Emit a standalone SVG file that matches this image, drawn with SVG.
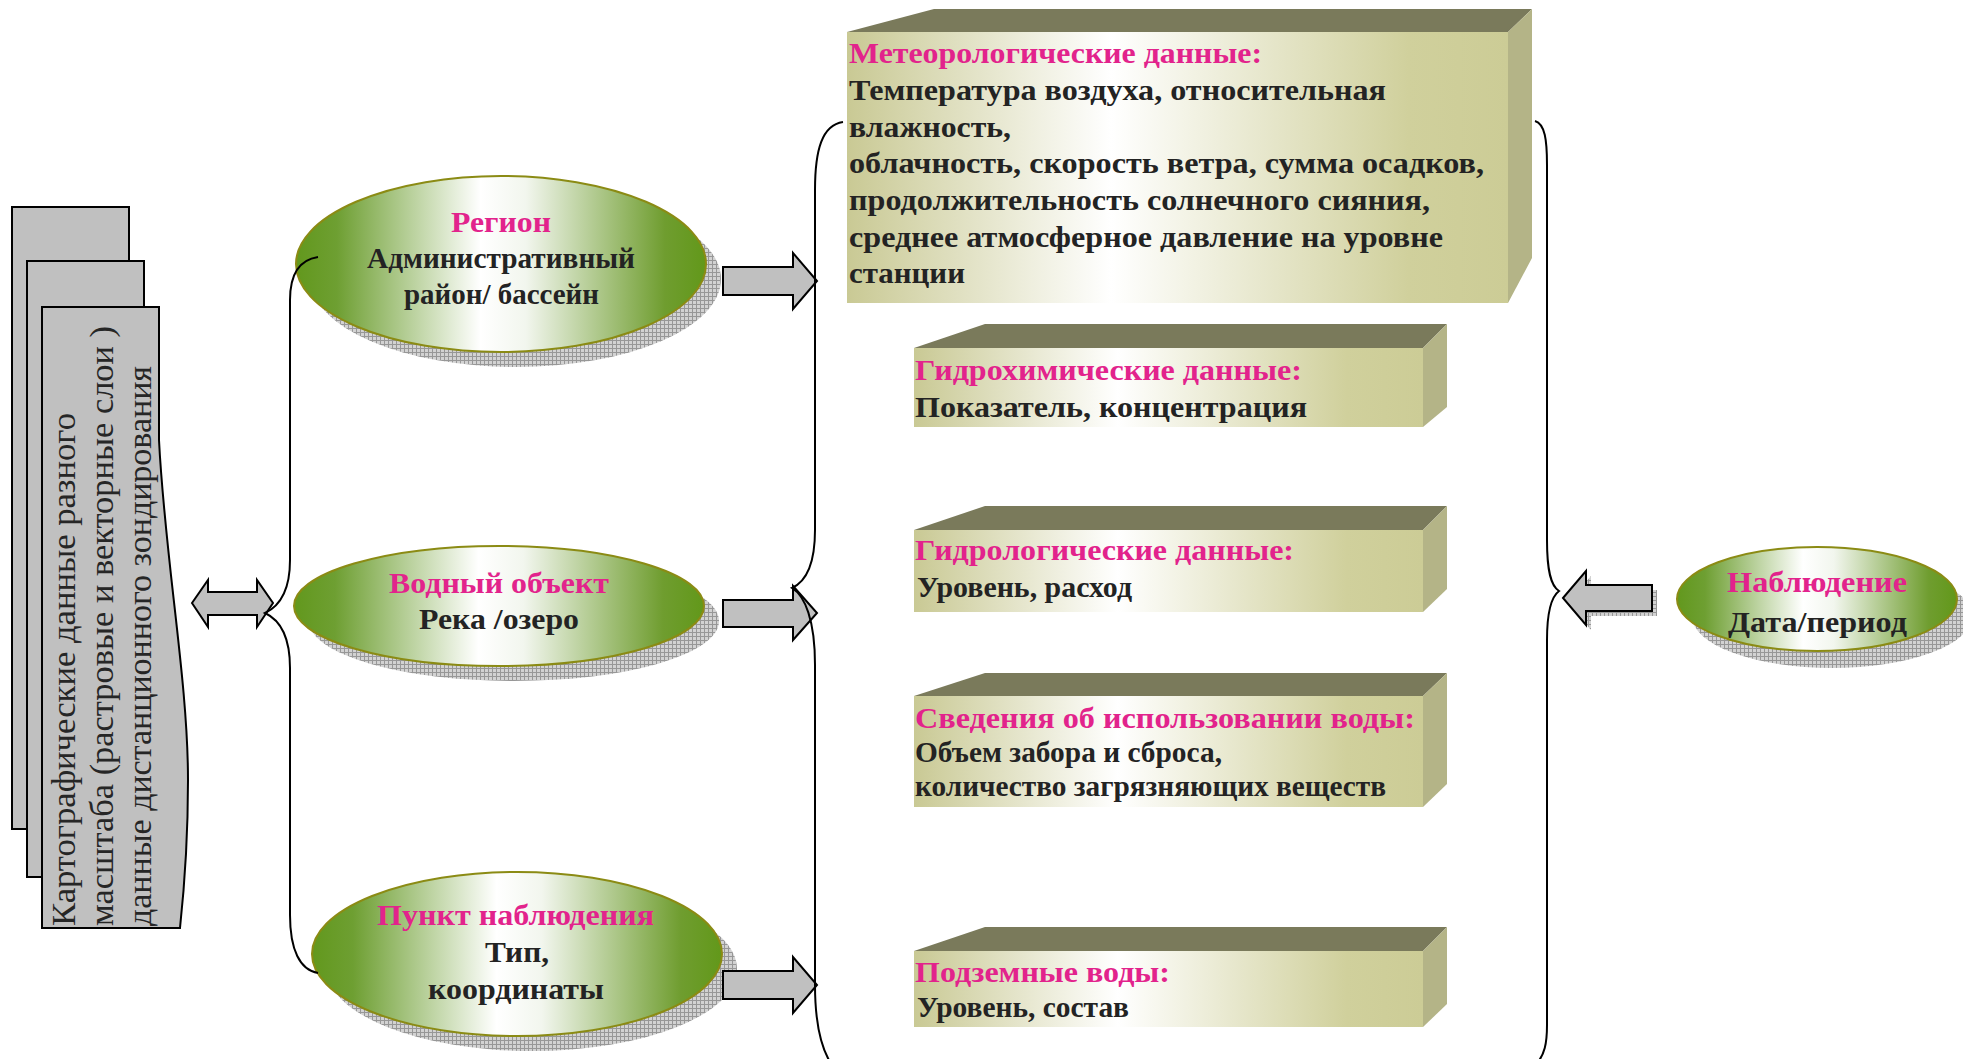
<svg xmlns="http://www.w3.org/2000/svg" width="1963" height="1059" viewBox="0 0 1963 1059">
  <defs>
    <linearGradient id="ovalFill" x1="0" y1="0" x2="1" y2="0">
      <stop offset="0" stop-color="#62981d"/>
      <stop offset="0.1" stop-color="#6e9f32"/>
      <stop offset="0.45" stop-color="#ffffff"/>
      <stop offset="0.56" stop-color="#f2f6ee"/>
      <stop offset="0.9" stop-color="#6f9d2f"/>
      <stop offset="1" stop-color="#62981a"/>
    </linearGradient>
    <linearGradient id="faceFill" x1="0" y1="0" x2="1" y2="0">
      <stop offset="0" stop-color="#c9c994"/>
      <stop offset="0.4" stop-color="#ffffff"/>
      <stop offset="0.85" stop-color="#d0d09c"/>
      <stop offset="1" stop-color="#cccc96"/>
    </linearGradient>
    <pattern id="hatch" width="4" height="4" patternUnits="userSpaceOnUse">
      <rect width="4" height="4" fill="#d2d2d2"/>
      <path d="M0 0.5H4M0.5 0V4" stroke="#979797" stroke-width="1"/>
    </pattern>
  </defs>
  <style>
    .sheet { fill: #c0c0c0; stroke: #000; stroke-width: 2; }
    .sheet-text { font-family: "Liberation Serif", "Times New Roman", serif; font-size: 34px; fill: #262626; }
    .oval { fill: url(#ovalFill); stroke: #8b8b14; stroke-width: 2; }
    .shadow { fill: url(#hatch); }
    .face { fill: url(#faceFill); }
    .top { fill: #7a7a5b; }
    .side { fill: #b4b487; }
    .t { font-family: "Liberation Serif", "Times New Roman", serif; font-weight: bold; font-size: 29px; }
    .head { fill: #e2238c; }
    .body { fill: #232323; }
    .block { fill: #c0c0c0; stroke: #000; stroke-width: 2; stroke-linejoin: miter; }
    .brace { fill: none; stroke: #000; stroke-width: 2; }
  </style>

  <rect width="1963" height="1059" fill="#ffffff"/>

  <!-- stacked map sheets -->
  <g id="maps">
    <rect class="sheet" x="12" y="207" width="117" height="622"/>
    <rect class="sheet" x="27" y="261" width="117" height="616"/>
    <path class="sheet" d="M42,307 L159,307 L159,440 C165,560 188,680 188,780 C188,850 183,900 180,928 L42,928 Z"/>
    <text class="sheet-text" transform="translate(75,926) rotate(-90)" textLength="513" lengthAdjust="spacingAndGlyphs">Картографические данные разного</text>
    <text class="sheet-text" transform="translate(113,926) rotate(-90)" textLength="600" lengthAdjust="spacingAndGlyphs">масштаба (растровые и  векторные слои )</text>
    <text class="sheet-text" transform="translate(151,926) rotate(-90)" textLength="560" lengthAdjust="spacingAndGlyphs">данные дистанционного зондирования</text>
  </g>

  <!-- ovals -->
  <g id="region">
    <ellipse class="shadow" cx="516" cy="279" rx="205" ry="88"/>
    <ellipse class="oval" cx="501" cy="264" rx="205" ry="88"/>
    <text class="t head" x="451" y="232" textLength="100" lengthAdjust="spacingAndGlyphs">Регион</text>
    <text class="t body" x="367" y="268" textLength="268" lengthAdjust="spacingAndGlyphs">Административный</text>
    <text class="t body" x="404" y="304" textLength="195" lengthAdjust="spacingAndGlyphs">район/ бассейн</text>
  </g>

  <g id="water-body">
    <ellipse class="shadow" cx="514" cy="621" rx="205" ry="60"/>
    <ellipse class="oval" cx="499" cy="606" rx="205" ry="60"/>
    <text class="t head" x="389" y="593" textLength="220" lengthAdjust="spacingAndGlyphs">Водный объект</text>
    <text class="t body" x="419" y="629" textLength="160" lengthAdjust="spacingAndGlyphs">Река /озеро</text>
  </g>

  <g id="station">
    <ellipse class="shadow" cx="532" cy="969" rx="205" ry="82"/>
    <ellipse class="oval" cx="517" cy="954" rx="205" ry="82"/>
    <text class="t head" x="377" y="925" textLength="277" lengthAdjust="spacingAndGlyphs">Пункт наблюдения</text>
    <text class="t body" x="485" y="962" textLength="64" lengthAdjust="spacingAndGlyphs">Тип,</text>
    <text class="t body" x="428" y="999" textLength="176" lengthAdjust="spacingAndGlyphs">координаты</text>
  </g>

  <g id="observation">
    <ellipse class="shadow" cx="1832" cy="616" rx="140" ry="52"/>
    <ellipse class="oval" cx="1817" cy="599" rx="140" ry="52"/>
    <text class="t head" x="1727" y="592" textLength="180" lengthAdjust="spacingAndGlyphs">Наблюдение</text>
    <text class="t body" x="1728" y="632" textLength="179" lengthAdjust="spacingAndGlyphs">Дата/период</text>
  </g>

  <!-- data boxes -->
  <g id="meteo">
    <polygon class="top" points="847,32 934,9 1532,9 1508,32"/>
    <polygon class="side" points="1508,32 1532,9 1532,258 1508,303"/>
    <rect class="face" x="847" y="32" width="661" height="271"/>
    <text class="t head" x="849" y="63" textLength="413" lengthAdjust="spacingAndGlyphs">Метеорологические данные:</text>
    <text class="t body" x="849" y="100" textLength="537" lengthAdjust="spacingAndGlyphs">Температура воздуха, относительная</text>
    <text class="t body" x="849" y="137" textLength="162" lengthAdjust="spacingAndGlyphs">влажность,</text>
    <text class="t body" x="849" y="173" textLength="635" lengthAdjust="spacingAndGlyphs">облачность, скорость ветра, сумма осадков,</text>
    <text class="t body" x="849" y="210" textLength="581" lengthAdjust="spacingAndGlyphs">продолжительность солнечного сияния,</text>
    <text class="t body" x="849" y="247" textLength="594" lengthAdjust="spacingAndGlyphs">среднее атмосферное давление на уровне</text>
    <text class="t body" x="849" y="283" textLength="116" lengthAdjust="spacingAndGlyphs">станции</text>
  </g>

  <g id="hydrochem">
    <polygon class="top" points="914,348 985,324 1447,324 1423,348"/>
    <polygon class="side" points="1423,348 1447,324 1447,407 1423,427"/>
    <rect class="face" x="914" y="348" width="509" height="79"/>
    <text class="t head" x="915" y="380" textLength="387" lengthAdjust="spacingAndGlyphs">Гидрохимические данные:</text>
    <text class="t body" x="915" y="417" textLength="392" lengthAdjust="spacingAndGlyphs">Показатель, концентрация</text>
  </g>

  <g id="hydrology">
    <polygon class="top" points="914,530 985,506 1447,506 1423,530"/>
    <polygon class="side" points="1423,530 1447,506 1447,589 1423,612"/>
    <rect class="face" x="914" y="530" width="509" height="82"/>
    <text class="t head" x="915" y="560" textLength="379" lengthAdjust="spacingAndGlyphs">Гидрологические данные:</text>
    <text class="t body" x="917" y="597" textLength="215" lengthAdjust="spacingAndGlyphs">Уровень, расход</text>
  </g>

  <g id="water-use">
    <polygon class="top" points="914,696 985,673 1447,673 1423,696"/>
    <polygon class="side" points="1423,696 1447,673 1447,784 1423,807"/>
    <rect class="face" x="914" y="696" width="509" height="111"/>
    <text class="t head" x="915" y="728" textLength="500" lengthAdjust="spacingAndGlyphs">Сведения об использовании воды:</text>
    <text class="t body" x="915" y="762" textLength="307" lengthAdjust="spacingAndGlyphs">Объем забора и сброса,</text>
    <text class="t body" x="915" y="796" textLength="471" lengthAdjust="spacingAndGlyphs">количество загрязняющих веществ</text>
  </g>

  <g id="groundwater">
    <polygon class="top" points="914,951 985,927 1447,927 1423,951"/>
    <polygon class="side" points="1423,951 1447,927 1447,1004 1423,1027"/>
    <rect class="face" x="914" y="951" width="509" height="76"/>
    <text class="t head" x="915" y="982" textLength="255" lengthAdjust="spacingAndGlyphs">Подземные воды:</text>
    <text class="t body" x="917" y="1017" textLength="212" lengthAdjust="spacingAndGlyphs">Уровень, состав</text>
  </g>

  <!-- connectors: block arrows and braces -->
  <g id="connectors">
    <polygon class="block" points="192,603 208,580 208,592 257,592 257,580 273,603 257,627 257,615 208,615 208,627"/>
    <path class="brace" d="M318,257 C298,260 290,275 290,300 L290,560 C290,590 280,606 265,613 C280,620 290,636 290,668 L290,915 C290,950 300,970 318,973"/>

    <polygon class="block" points="723,267 793,267 793,253 817,281 793,309 793,295 723,295"/>
    <polygon class="block" points="723,600 793,600 793,586 817,613 793,640 793,627 723,627"/>
    <polygon class="block" points="723,971 793,971 793,957 817,985 793,1013 793,999 723,999"/>
    <path class="brace" d="M843,122 C822,125 815,150 815,190 L815,530 C815,565 805,582 792,588 C805,596 815,620 815,665 L815,985 C815,1020 820,1045 830,1062"/>

    <path class="brace" d="M1535,121 C1545,124 1547,140 1547,165 L1547,540 C1547,572 1551,586 1559,591 C1551,597 1547,612 1547,640 L1547,1025 C1547,1045 1544,1054 1538,1062"/>
    <polygon class="shadow" points="1568,603 1591,576 1591,590 1657,590 1657,616 1591,616 1591,630"/>
    <polygon class="block" points="1563,598 1586,571 1586,585 1652,585 1652,611 1586,611 1586,625"/>
  </g>
</svg>
